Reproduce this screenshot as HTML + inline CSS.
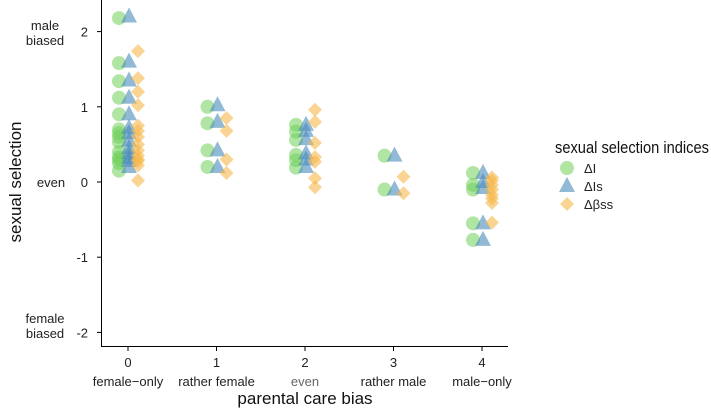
<!DOCTYPE html>
<html><head><meta charset="utf-8"><style>
body{margin:0;background:#fff;}
svg{display:block;font-family:"Liberation Sans",sans-serif;}
</style></head><body>
<svg id="chart" width="711" height="409">
<g id="axes"></g>
<g id="points"></g>
<g id="legend"></g>
</svg>
<script>
const categories = [0, 1, 2, 3, 4];
const categoryNames = ["female\u2212only", "rather female", "even", "rather male", "male\u2212only"];
const yTicks = [2, 1, 0, -1, -2];
const seriesNames = ["\u0394I", "\u0394Is", "\u0394\u03b2ss"];
const dI = [
 [2.18,1.58,1.34,1.12,0.9,0.7,0.65,0.6,0.53,0.4,0.33,0.3,0.25,0.15],
 [1.0,0.78,0.42,0.2],
 [0.76,0.67,0.56,0.36,0.29,0.19],
 [0.35,-0.1],
 [0.12,-0.04,-0.1,-0.55,-0.77]
];
const dIs = [
 [2.2,1.6,1.35,1.12,0.9,0.72,0.65,0.55,0.45,0.38,0.32,0.28,0.2],
 [1.02,0.8,0.42,0.2],
 [0.76,0.68,0.57,0.38,0.3,0.2],
 [0.35,-0.1],
 [0.12,0.0,-0.08,-0.55,-0.77]
];
const dBss = [
 [1.74,1.38,1.2,1.02,0.75,0.68,0.6,0.5,0.42,0.35,0.3,0.28,0.22,0.02],
 [0.85,0.68,0.3,0.12],
 [0.96,0.8,0.52,0.33,0.27,0.05,-0.07],
 [0.07,-0.15],
 [0.06,0.02,-0.04,-0.1,-0.17,-0.22,-0.28,-0.54]
];
const NS="http://www.w3.org/2000/svg";
function x(c){return 128+c*88.5;}
function y(v){return 182-v*75.2;}
function mk(tag,attrs,parent){const e=document.createElementNS(NS,tag);for(const k in attrs)e.setAttribute(k,attrs[k]);parent.appendChild(e);return e;}
const axes=document.getElementById('axes');
let l=mk('line',{x1:101.5,y1:0,x2:101.5,y2:346.5,stroke:'#000','stroke-width':1},axes);


l=mk('line',{x1:101,y1:346.5,x2:508,y2:346.5,stroke:'#000','stroke-width':1},axes);


yTicks.forEach(v=>{
 const t=mk('line',{x1:97,y1:y(v),x2:101,y2:y(v),stroke:'#000'},axes);
 
 
 const tx=mk('text',{x:88,y:y(v)+5,'text-anchor':'end','font-size':13,fill:'#222'},axes);
 tx.textContent=v;
 
 
});
categories.forEach((c,i)=>{
 const t=mk('line',{x1:x(c),y1:347,x2:x(c),y2:351,stroke:'#000'},axes);
 
 
 const tx=mk('text',{x:x(c),y:367,'text-anchor':'middle','font-size':13,fill:'#222'},axes);
 tx.textContent=c;
 
 
 const nm=mk('text',{x:x(c),y:386,'text-anchor':'middle','font-size':13,fill:i==2?'#666':'#222'},axes);
 nm.textContent=categoryNames[i];
 
 
});
[["male",30],["biased",45],["even",187],["female",323],["biased",338]].forEach(([s,yy])=>{
 const tx=mk('text',{x:s=="even"?51:45,y:yy,'text-anchor':'middle','font-size':13,fill:'#222'},axes);
 tx.textContent=s;
 
 
});
let tt=mk('text',{x:0,y:0,'text-anchor':'middle','font-size':17,fill:'#111',transform:'translate(21,182) rotate(-90)'},axes);
tt.textContent='sexual selection';


tt=mk('text',{x:305,y:404,'text-anchor':'middle','font-size':17,fill:'#111'},axes);
tt.textContent='parental care bias';


const pts=document.getElementById('points');
function circle(cx,cy,p){return mk('circle',{cx,cy,r:7,fill:'#6fcf5a','fill-opacity':0.55},p);}
function tri(cx,cy,p){return mk('polygon',{points:`${cx-8},${cy+6} ${cx+8},${cy+6} ${cx},${cy-9}`,fill:'#4a8bbb','fill-opacity':0.6},p);}
function dia(cx,cy,p){return mk('polygon',{points:`${cx},${cy-7} ${cx+7},${cy} ${cx},${cy+7} ${cx-7},${cy}`,fill:'#f7b84a','fill-opacity':0.6},p);}
categories.forEach((c,i)=>{
 dI[i].forEach(v=>{const e=circle(x(c)-9,y(v),pts);
  
  });
 dIs[i].forEach(v=>{const e=tri(x(c)+1,y(v),pts);
  
  });
 dBss[i].forEach(v=>{const e=dia(x(c)+10,y(v),pts);
  
  });
});
const lg=document.getElementById('legend');
tt=mk('text',{x:555,y:153,'font-size':17,fill:'#111',textLength:154,lengthAdjust:'spacingAndGlyphs'},lg);
tt.textContent='sexual selection indices';


const fns=[circle,tri,dia];
seriesNames.forEach((s,i)=>{
 const yy=168+i*18;
 const m=fns[i](567,yy,lg);
 
 
 const tx=mk('text',{x:584,y:yy+5,'font-size':13,fill:'#222'},lg);
 tx.textContent=s;
 
 
});
</script>
</body></html>
